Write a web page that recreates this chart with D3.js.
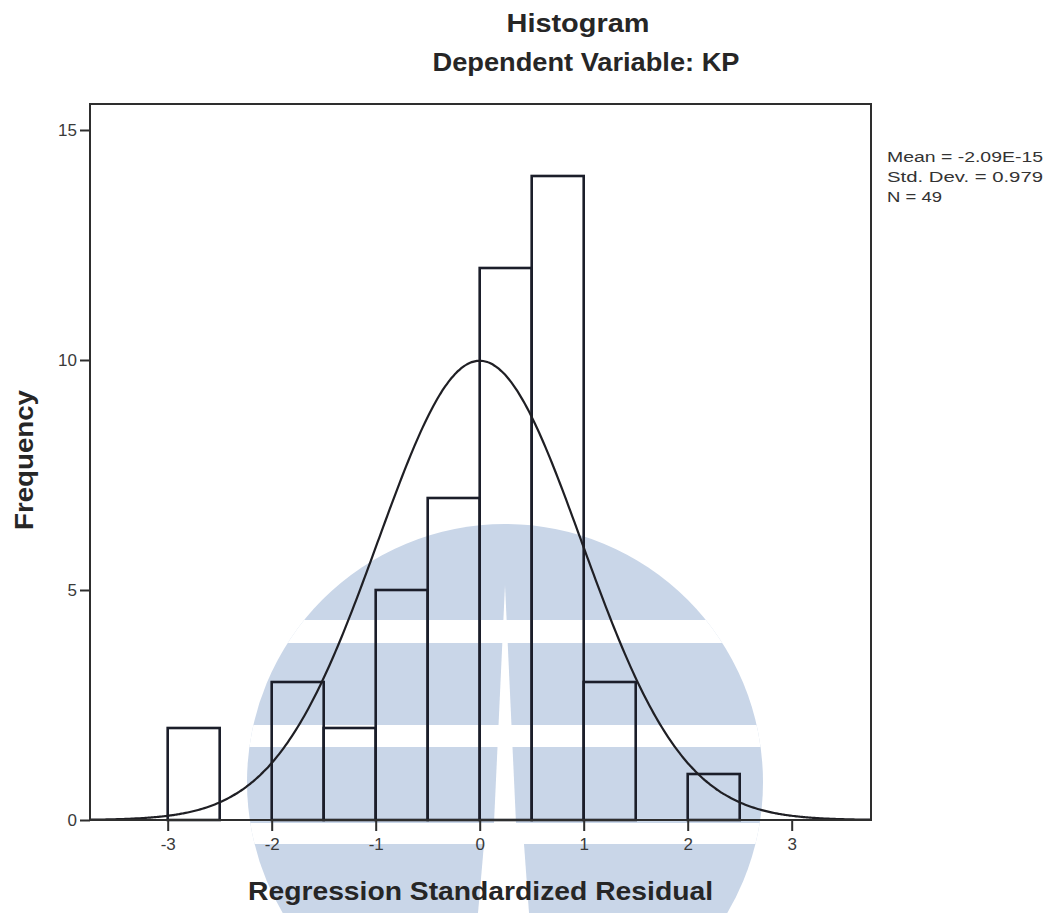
<!DOCTYPE html>
<html>
<head>
<meta charset="utf-8">
<script src="https://cdn.jsdelivr.net/npm/d3@7"></script>
<style>
  html, body { margin: 0; padding: 0; background: #ffffff; }
  svg { display: block; }
  text { font-family: "Liberation Sans", Arial, sans-serif; }
</style>
</head>
<body>
<svg id="chart" width="1059" height="913"></svg>
<script>
// Histogram of regression standardized residuals (bin width 0.5)
const binStarts = [-3, -2.5, -2, -1.5, -1, -0.5, 0, 0.5, 1, 1.5, 2];
const binCounts = [2, 0, 3, 2, 5, 7, 12, 14, 3, 0, 1];
const binWidth = 0.5;

const xTicks = [-3, -2, -1, 0, 1, 2, 3];
const yTicks = [0, 5, 10, 15];

// Summary statistics; the normal curve is fitted from these
const residMean = -2.09e-15;
const residSD = 0.979;
const residN = 49;
const statLines = ["Mean = -2.09E-15", "Std. Dev. = 0.979", "N = 49"];

const titleText = "Histogram";
const subtitleText = "Dependent Variable: KP";
const xTitle = "Regression Standardized Residual";
const yTitle = "Frequency";

const svg = d3.select("#chart");
const W = 1059, H = 913;
const plot = { left: 90, right: 871, top: 104, bottom: 820 };

const x = d3.scaleLinear().domain([-3.747, 3.7625]).range([plot.left, plot.right]);
const y = d3.scaleLinear().domain([0, 15.565]).range([plot.bottom, plot.top]);

// ---- background emblem (pale blue disc with white bars) ----
const emb = { cx: 505, cy: 782, r: 258 };
const wm = svg.append("g").attr("class", "emblem");
wm.append("defs").append("clipPath").attr("id", "embClip")
  .append("circle").attr("cx", emb.cx).attr("cy", emb.cy).attr("r", emb.r);
const wmg = wm.append("g").attr("clip-path", "url(#embClip)");
wmg.append("rect").attr("x", 0).attr("y", 0).attr("width", W).attr("height", H)
  .attr("fill", "#c9d6e8");
[[620, 643], [725, 747], [823, 844]].forEach(([a, b]) => {
  wmg.append("rect").attr("x", 0).attr("y", a).attr("width", W).attr("height", b - a)
    .attr("fill", "#ffffff");
});
wmg.append("path")
  .attr("d", "M505,585 L516,823 L494,823 Z")
  .attr("fill", "#ffffff");
wmg.append("path")
  .attr("d", "M484,844 L524,844 L529,913 L478,913 Z")
  .attr("fill", "#ffffff");

// ---- bars ----
const bins = binStarts.map((b, i) => ({ x0: b, x1: b + binWidth, n: binCounts[i] }))
  .filter(d => d.n > 0);

svg.append("g").attr("class", "bars")
  .selectAll("rect").data(bins).join("rect")
  .attr("x", d => x(d.x0))
  .attr("y", d => y(d.n))
  .attr("width", d => x(d.x1) - x(d.x0))
  .attr("height", d => y(0) - y(d.n))
  .attr("fill", "none")
  .attr("stroke", "#1b1e2a")
  .attr("stroke-width", 2.6);

// ---- fitted normal curve ----
const peak = residN * binWidth / (residSD * Math.sqrt(2 * Math.PI));
const curveX = d3.range(x.domain()[0], x.domain()[1] + 0.001, 0.02);
const curvePts = curveX.map(v => [v, peak * Math.exp(-((v - residMean) ** 2) / (2 * residSD * residSD))]);
svg.append("path")
  .datum(curvePts)
  .attr("d", d3.line().x(d => x(d[0])).y(d => y(d[1])).curve(d3.curveBasis))
  .attr("fill", "none")
  .attr("stroke", "#1f1f24")
  .attr("stroke-width", 2.2);

// ---- frame ----
svg.append("rect")
  .attr("x", plot.left).attr("y", plot.top)
  .attr("width", plot.right - plot.left).attr("height", plot.bottom - plot.top)
  .attr("fill", "none").attr("stroke", "#2e2e2e").attr("stroke-width", 2);

// ---- axes (plain hyphen for negatives) ----
const fmt = d => String(d);
const gx = svg.append("g").attr("transform", `translate(0,${plot.bottom})`)
  .call(d3.axisBottom(x).tickValues(xTicks).tickSize(11).tickPadding(7).tickFormat(fmt));
const gy = svg.append("g").attr("transform", `translate(${plot.left},0)`)
  .call(d3.axisLeft(y).tickValues(yTicks).tickSize(10).tickPadding(3).tickFormat(fmt));
[gx, gy].forEach(g => {
  g.select(".domain").remove();
  g.selectAll(".tick line").attr("stroke", "#2e2e2e").attr("stroke-width", 2);
  g.selectAll(".tick text").attr("fill", "#3a3a3a")
    .style("font-size", "17px").style("font-family", "\"Liberation Sans\", Arial, sans-serif");
});

// ---- texts ----
function label(txt, ax, ay, size, width, bold) {
  return svg.append("text")
    .attr("x", ax).attr("y", ay)
    .attr("text-anchor", "middle")
    .attr("textLength", width)
    .attr("lengthAdjust", "spacingAndGlyphs")
    .style("font-size", size + "px")
    .style("font-weight", bold ? "bold" : "normal")
    .attr("fill", "#262626")
    .text(txt);
}
label(titleText, 578, 32, 25, 143, true);
label(subtitleText, 586, 71, 25, 307, true);
label(xTitle, 480.5, 900, 25, 465, true);
label(yTitle, 0, 0, 25, 140, true)
  .attr("transform", "translate(33,460) rotate(-90)");

svg.append("g").selectAll("text").data(statLines).join("text")
  .attr("x", 887)
  .attr("y", (d, i) => 162 + i * 20)
  .attr("textLength", (d, i) => [156, 156, 55][i])
  .attr("lengthAdjust", "spacingAndGlyphs")
  .style("font-size", "15.5px")
  .attr("fill", "#333333")
  .text(d => d);
</script>
</body>
</html>
